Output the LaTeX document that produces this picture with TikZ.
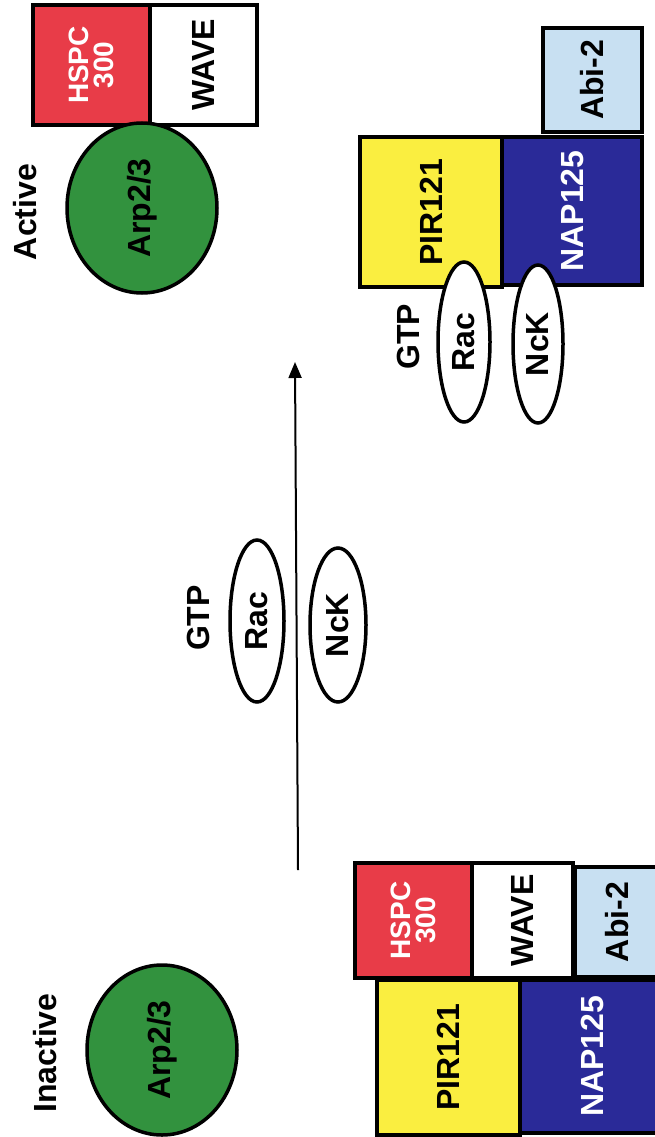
\documentclass[tikz,border=0pt]{standalone}
\usepackage{fontspec}
\setmainfont{Liberation Sans}
\usetikzlibrary{shapes.geometric,arrows.meta}
\definecolor{arpgreen}{RGB}{50,146,62}
\definecolor{hspcred}{RGB}{232,60,72}
\definecolor{piryellow}{RGB}{250,238,64}
\definecolor{napblue}{RGB}{42,42,152}
\definecolor{abiblue}{RGB}{200,224,242}
\tikzset{
  lbl/.style={rotate=90, inner sep=0pt, font=\bfseries\fontsize{32}{36}\selectfont},
  box/.style={lbl, draw=black, line width=4pt, rectangle},
  oval/.style={lbl, draw=black, line width=3.5pt, ellipse},
}
\begin{document}
\begin{tikzpicture}[x=1pt, y=-1pt]
\path[use as bounding box, fill=white] (0,0) rectangle (655,1137);
\clip (0,0) rectangle (655,1137);

% ---------- Active (top) ----------
\node[lbl] (activeT) at (25,212) {Active};
\node[box, fill=hspcred, text=white, minimum width=120pt, minimum height=117pt, align=center,
      font=\bfseries\fontsize{28}{25}\selectfont] (hspcA) at (91.5,65) {HSPC\\300};
\node[box, fill=white, minimum width=120pt, minimum height=107pt] (waveA) at (203.5,65) {WAVE};
\node[oval, fill=arpgreen, minimum width=170pt, minimum height=150pt] (arpA) at (142,208) {Arp2/3};

\node[box, fill=abiblue, minimum width=104pt, minimum height=99pt] (abiA) at (592.5,80) {Abi-2};
\node[box, fill=piryellow, minimum width=150pt, minimum height=142pt] (pirA) at (431,212) {PIR121};
\node[box, fill=napblue, text=white, minimum width=148pt, minimum height=140pt] (napA) at (572,211) {NAP125};
\node[lbl] (gtpA) at (408,337) {GTP};
\node[oval, fill=white, minimum width=160pt, minimum height=52pt] (racA) at (464,342) {Rac};
\node[oval, fill=white, minimum width=158pt, minimum height=50pt] (nckA) at (538,344) {NcK};

% ---------- Transition ----------
\coordinate (arrS) at (298,870);
\coordinate (arrE) at (295,362);
\draw[line width=2pt, -{Triangle[width=13pt,length=16pt]}] (arrS) -- (arrE);
\node[lbl] (gtpM) at (198,618) {GTP};
\node[oval, fill=white, minimum width=162pt, minimum height=54pt] (racM) at (257,621) {Rac};
\node[oval, fill=white, minimum width=154pt, minimum height=56pt] (nckM) at (338,625) {NcK};

% ---------- Inactive (bottom) ----------
\node[lbl] (inactiveT) at (45,1053) {Inactive};
\node[oval, fill=arpgreen, minimum width=170pt, minimum height=150pt] (arpI) at (162,1050) {Arp2/3};
\node[box, fill=hspcred, text=white, minimum width=115pt, minimum height=117pt, align=center,
      font=\bfseries\fontsize{28}{25}\selectfont] (hspcI) at (413.5,920.5) {HSPC\\300};
\node[box, fill=white, minimum width=115pt, minimum height=101pt] (waveI) at (522.5,920.5) {WAVE};
\node[box, fill=abiblue, minimum width=110pt, minimum height=85pt] (abiI) at (617.5,922) {Abi-2};
\node[box, fill=piryellow, minimum width=155pt, minimum height=143pt] (pirI) at (448.5,1057.5) {PIR121};
\node[box, fill=napblue, text=white, minimum width=153pt, minimum height=145pt] (napI) at (592.5,1056.5) {NAP125};
\end{tikzpicture}
\end{document}
